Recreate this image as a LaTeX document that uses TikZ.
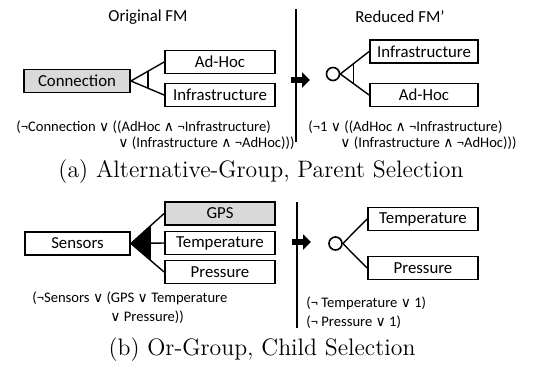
\documentclass[tikz,border=0pt]{standalone}
\usepackage{fontspec}
\newfontfamily\fmfont{Carlito}
\newfontfamily\opfont{DejaVu Sans}
\usetikzlibrary{arrows.meta, positioning}

\newcommand{\orop}{{\opfont\fontsize{7}{8}\selectfont ∨}}
\newcommand{\andop}{{\opfont\fontsize{7}{8}\selectfont ∧}}

\tikzset{
  feature/.style={draw, line width=0.9pt, minimum width=55pt, minimum height=11.5pt,
    inner sep=0pt, font=\fmfont\fontsize{8.4}{10}\selectfont},
  selected/.style={feature, fill=black!15},
  heading/.style={font=\fmfont\fontsize{8.4}{10}\selectfont},
  formula/.style={inner sep=0pt, anchor=west, font=\fmfont\fontsize{7.3}{9}\selectfont},
  subcap/.style={font=\fontsize{11.9}{14}\selectfont},
  link/.style={line width=0.7pt},
  rootdot/.style={circle, draw, line width=0.8pt, minimum size=6.5pt, inner sep=0pt},
  reduce arrow/.style={line width=3pt, -{Triangle[length=4pt, width=7.5pt]}}
}

\begin{document}
\begin{tikzpicture}[x=0.5pt, y=-0.5pt]
  \useasboundingbox (0,0) rectangle (537,365);

  % (a) alternative group, parent selected
  \node[heading] (origA) at (148,17) {Original FM};
  \node[heading] (redA) at (400,17) {Reduced FM’};

  \node[selected, minimum width=53pt] (conn) at (77,81) {Connection};
  \node[feature] (adhoc) at (220,62) {Ad-Hoc};
  \node[feature] (infra) at (220,95) {Infrastructure};
  \draw[link] (conn.east) -- (adhoc.west)
      (conn.east) -- (infra.west);
  \begin{scope}
    \clip (conn.east) -- (adhoc.west) -- (infra.west) -- cycle;
    \draw[link] ([xshift=8.5pt]conn.east) ++(0,-30) -- ++(0,60);
  \end{scope}

  \coordinate (sepAtop) at (296,9);
  \coordinate (sepAbot) at (296,142);
  \draw[line width=1pt] (sepAtop) -- (sepAbot);
  \coordinate (arrAfrom) at (291,80);
  \coordinate (arrAto) at (310,80);
  \draw[reduce arrow] (arrAfrom) -- (arrAto);

  \node[rootdot] (rootA) at (333,74) {};
  \node[feature, minimum width=54pt] (infraR) at (424,51.5) {Infrastructure};
  \node[feature, minimum width=54pt] (adhocR) at (424,95) {Ad-Hoc};
  \draw[link] (rootA.east) -- (infraR.west)
      (rootA.east) -- (adhocR.west);
  \begin{scope}
    \clip (rootA.east) -- (infraR.west) -- (adhocR.west) -- cycle;
    \draw[link] ([xshift=6.5pt]rootA.east) ++(0,-30) -- ++(0,60);
  \end{scope}

  \node[formula] (fA1) at (16,127) {(¬Connection \orop{} ((AdHoc \andop{} ¬Infrastructure)};
  \node[formula] (fA2) at (118,143) {\orop{} (Infrastructure \andop{} ¬AdHoc)))};
  \node[formula] (fA3) at (308,127) {(¬1 \orop{} ((AdHoc \andop{} ¬Infrastructure)};
  \node[formula] (fA4) at (340,143) {\orop{} (Infrastructure \andop{} ¬AdHoc)))};

  \node[subcap] (capA) at (261,172) {(a) Alternative-Group, Parent Selection};

  % (b) or group, child selected
  \node[feature, minimum width=52.5pt] (sensors) at (77.5,243.5) {Sensors};
  \node[selected] (gps) at (220,213.5) {GPS};
  \node[feature] (temp) at (220,243) {Temperature};
  \node[feature] (press) at (220,272) {Pressure};
  \begin{scope}
    \clip (sensors.east) -- (gps.west) -- (press.west) -- cycle;
    \fill (sensors.east) ++(0,-40) rectangle ++(20,80);
  \end{scope}
  \draw[link] (sensors.east) -- (gps.west)
      (sensors.east) -- (temp.west)
      (sensors.east) -- (press.west);

  \coordinate (sepBtop) at (297,202);
  \coordinate (sepBbot) at (297,328);
  \draw[line width=1pt] (sepBtop) -- (sepBbot);
  \coordinate (arrBfrom) at (292,242);
  \coordinate (arrBto) at (311,242);
  \draw[reduce arrow] (arrBfrom) -- (arrBto);

  \node[rootdot] (rootB) at (335.5,243.5) {};
  \node[feature] (tempR) at (423,219) {Temperature};
  \node[feature] (pressR) at (423,268) {Pressure};
  \draw[link] (rootB.east) -- (tempR.west)
      (rootB.east) -- (pressR.west);

  \node[formula] (fB1) at (32,298) {(¬Sensors \orop{} (GPS \orop{} Temperature};
  \node[formula] (fB2) at (110,317) {\orop{} Pressure))};
  \node[formula] (fB3) at (306,303) {(¬ Temperature \orop{} 1)};
  \node[formula] (fB4) at (306,322) {(¬ Pressure \orop{} 1)};

  \node[subcap] (capB) at (262,350) {(b) Or-Group, Child Selection};
\end{tikzpicture}
\end{document}
